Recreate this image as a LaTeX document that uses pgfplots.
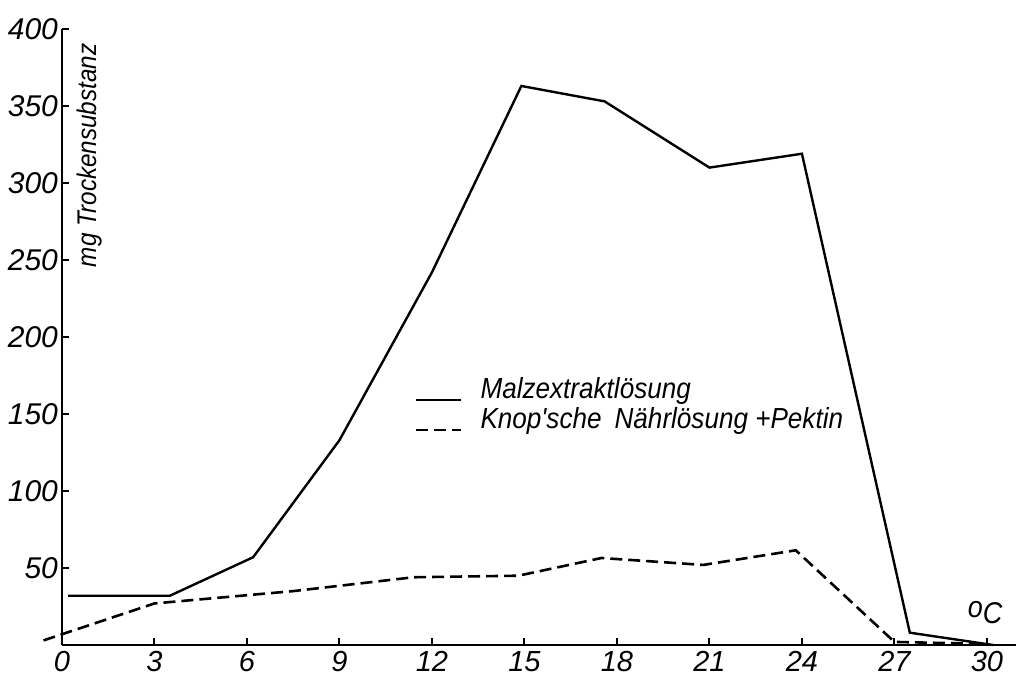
\documentclass[border=0pt]{standalone}
\usepackage{fontspec}
\setmainfont{Liberation Sans}
\newfontfamily\narrowit{Liberation Sans}[FakeStretch=0.9]
\usepackage{pgfplots}
\pgfplotsset{compat=1.18}
\begin{document}
\begin{tikzpicture}
\begin{axis}[
  x=15.415pt, y=0.77pt,
  xmin=0, xmax=31, ymin=0, ymax=400,
  axis lines=left,
  axis line style={-, line width=1.2pt, black},
  xtick={0,3,...,30}, ytick={50,100,...,400},
  tick align=inside, major tick length=3.5pt,
  tick style={line width=1pt, black},
  ticklabel style={font=\fontsize{15}{17}\selectfont\itshape},
  xticklabel style={font=\fontsize{14.5}{17}\selectfont\itshape, inner sep=0pt, text height=10.4pt, text depth=0pt, yshift=-2.5pt},
  yticklabel style={xshift=1.5pt},
  /pgf/number format/assume math mode=true,
  clip=false,
  legend style={at={(axis cs:11.24,177)}, anchor=north west, draw=none, fill=none,
    font=\narrowit\fontsize{14.5}{17}\selectfont\itshape,
    nodes={inner sep=0pt, text height=11pt, text depth=4pt},
    /tikz/every odd column/.append style={column sep=9pt}},
  legend cell align=left,
  legend image code/.code={\draw[#1] (0pt,-4pt) -- (22.5pt,-4pt);},
]
\addplot[black, line width=1.2pt] coordinates {
 (0.2,32) (3.5,32) (6.2,57) (9,133) (12,242) (14.9,363) (17.6,353) (21,310) (24,319) (27.5,8) (30.2,0)
};
\addlegendentry{Malzextraktlösung}
\addplot[black, line width=1.3pt, dash pattern=on 6pt off 3pt] coordinates {
 (-0.6,3) (3.0,27) (7.5,35) (11.4,44) (14.8,45) (17.5,56.5) (20.8,52) (23.8,61.5) (27,2) (29.3,1) (30,0)
};
\addlegendentry{Knop'sche\hspace{0.45em}Nährlösung +Pektin}
\node[rotate=90, font=\narrowit\fontsize{13.5}{16}\selectfont\itshape] at (axis cs:0.88,318) {mg Trockensubstanz};
\node[font=\narrowit\fontsize{15}{17}\selectfont\itshape] at (axis cs:29.94,21) {\raisebox{0.22em}{o}C};
\coordinate (bl) at (axis cs:-2.011,-20.78);
\coordinate (tr) at (axis cs:30.944,418.83);
\end{axis}
\pgfresetboundingbox
\path[use as bounding box] (bl) rectangle (tr);
\end{tikzpicture}
\end{document}
